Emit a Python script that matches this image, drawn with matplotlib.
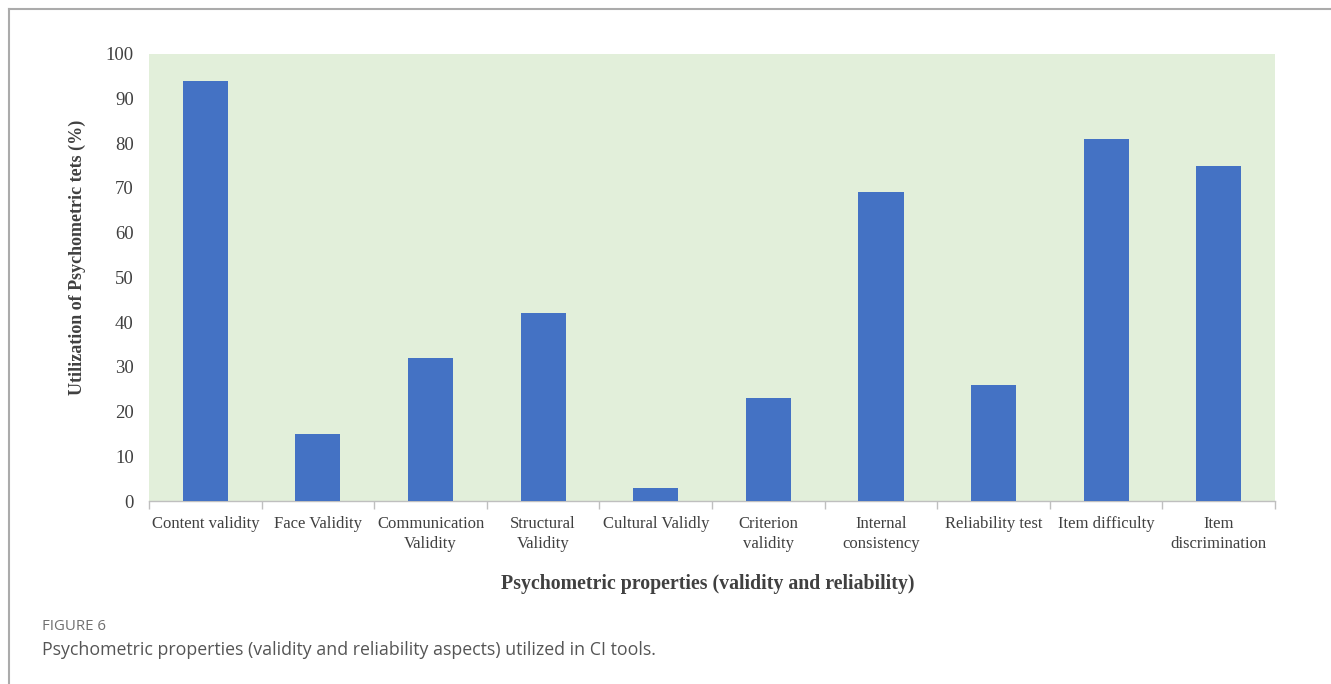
import numpy as np
import matplotlib.pyplot as plt
from matplotlib.lines import Line2D

categories = ["Content validity", "Face Validity", "Communication\nValidity",
              "Structural\nValidity", "Cultural Validly", "Criterion\nvalidity",
              "Internal\nconsistency", "Reliability test", "Item difficulty",
              "Item\ndiscrimination"]
values = [94, 15, 32, 42, 3, 23, 69, 26, 81, 75]
yticks = [0, 10, 20, 30, 40, 50, 60, 70, 80, 90, 100]

fig = plt.figure(figsize=(13.31, 6.84), dpi=100)
ax = fig.add_axes([0.112, 0.2675, 0.846, 0.654])

x = np.arange(len(categories))
ax.bar(x, values, width=0.4, color="#4472C4", zorder=3)
ax.set_facecolor("#E2EFDA")
ax.set_xlim(-0.5, len(categories) - 0.5)
ax.set_ylim(0, 100)

serif = "Liberation Serif"
ax.set_yticks(yticks)
ax.set_yticklabels([str(v) for v in yticks], fontfamily=serif, fontsize=13.5, color="#404040")
ax.set_xticks(x)
ax.set_xticklabels(categories, fontfamily=serif, fontsize=12, color="#404040", linespacing=1.3)
ax.set_xticks(np.arange(-0.5, len(categories)), minor=True)
ax.tick_params(axis="x", which="major", length=0, pad=11)
ax.tick_params(axis="x", which="minor", length=6, color="#BFBFBF", width=1)
ax.tick_params(axis="y", length=0, pad=11)

for s in ["top", "right", "left"]:
    ax.spines[s].set_visible(False)
ax.spines["bottom"].set_color("#BFBFBF")
ax.spines["bottom"].set_linewidth(1)

ax.text(-0.064, 0.544, "Utilization of Psychometric tets (%)", transform=ax.transAxes,
        rotation=90, ha="center", va="center", fontfamily=serif, fontsize=13,
        fontweight="bold", color="#404040")
ax.text(0.496, -0.186, "Psychometric properties (validity and reliability)", transform=ax.transAxes,
        ha="center", va="center", fontfamily=serif, fontsize=14.3,
        fontweight="bold", color="#404040")

# frame around the figure
fig.add_artist(Line2D([9 / 1331, 1], [1 - 9 / 684, 1 - 9 / 684], color="#ABABAB", lw=1.5))
fig.add_artist(Line2D([9 / 1331, 9 / 1331], [0, 1 - 9 / 684], color="#ABABAB", lw=1.5))

fig.text(42 / 1331, 1 - 627 / 684, "FIGURE 6", fontfamily="Open Sans", fontsize=10.8,
         color="#707070", va="center")
fig.text(42 / 1331, 1 - 650 / 684,
         "Psychometric properties (validity and reliability aspects) utilized in CI tools.",
         fontfamily="Open Sans", fontsize=12.8, color="#555555", va="center")

fig.savefig("out.png", dpi=100)
